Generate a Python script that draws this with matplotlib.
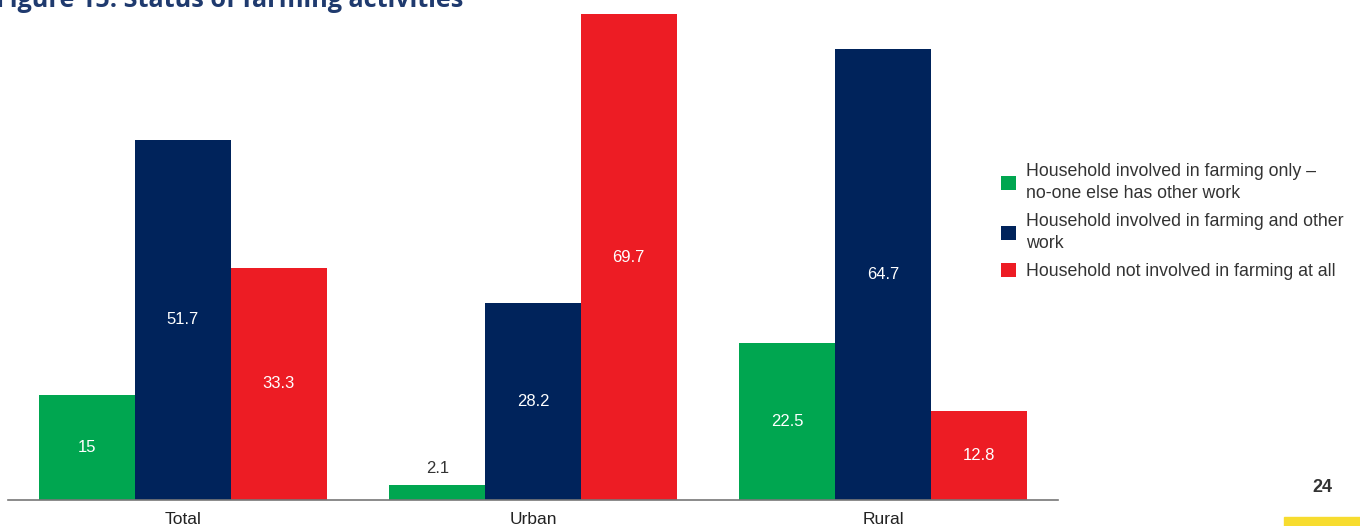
import matplotlib.pyplot as plt
import numpy as np

categories = ['Total', 'Urban', 'Rural']
series_names = ['Household involved in farming only –\nno-one else has other work',
                'Household involved in farming and other\nwork',
                'Household not involved in farming at all']
farming_only = [15, 2.1, 22.5]
farming_and_other = [51.7, 28.2, 64.7]
not_farming = [33.3, 69.7, 12.8]
series = [farming_only, farming_and_other, not_farming]
colors = ['#00A650', '#00235B', '#ED1C24']

plt.rcParams['font.family'] = ['Liberation Sans Narrow', 'Liberation Sans', 'DejaVu Sans']

W, H = 1360, 526
fig = plt.figure(figsize=(W / 100, H / 100), dpi=100)
ax = fig.add_axes([8 / W, 26 / H, 1050 / W, 486 / H])

bar_width = 0.2735
index = np.arange(len(categories))
for i, (vals, col, name) in enumerate(zip(series, colors, series_names)):
    bars = ax.bar(index + (i - 1) * bar_width, vals, bar_width, color=col, label=name)
    for b, v in zip(bars, vals):
        label = f'{v:g}'
        if v < 5:
            ax.text(b.get_x() + b.get_width() / 2, v + 1.3, label, ha='center', va='bottom',
                    fontsize=12, color='#333333')
        else:
            ax.text(b.get_x() + b.get_width() / 2, v / 2, label, ha='center', va='center',
                    fontsize=12, color='white')

ax.set_xlim(-0.5, 2.5)
ax.set_ylim(0, 69.7)
ax.set_xticks(index)
ax.set_xticklabels(categories, fontsize=12.5, color='#222222')
ax.tick_params(axis='x', length=0, pad=9)
ax.set_yticks([])
for s in ['top', 'right', 'left']:
    ax.spines[s].set_visible(False)
ax.spines['bottom'].set_color('#777777')
ax.spines['bottom'].set_linewidth(1.2)

leg = fig.legend(loc='upper left', bbox_to_anchor=(1001 / W, 1 - 163 / H), frameon=False,
                 fontsize=12.8, handlelength=0.85, handleheight=0.85, handletextpad=0.55,
                 labelspacing=0.65, borderpad=0, borderaxespad=0, labelcolor='#333333')
for t in leg.get_texts():
    t.set_linespacing(1.35)

# title, cut off at the top of the page
fig.text(-4 / W, 1 - 7 / H, 'Figure 15: Status of farming activities', ha='left', va='baseline',
         fontsize=18.2, fontweight='bold', color='#1F3A6E', family=['Open Sans', 'DejaVu Sans'])

# page number and yellow tab
fig.text(1322 / W, 1 - 488 / H, '24', ha='center', va='center', fontsize=13,
         fontweight='bold', color='#333333', family=['Liberation Sans', 'DejaVu Sans'])
fig.patches.append(plt.Rectangle((1284 / W, 0), 76 / W, 9 / H, transform=fig.transFigure,
                                 color='#F7DC2F'))

plt.savefig('out.png', dpi=100)
